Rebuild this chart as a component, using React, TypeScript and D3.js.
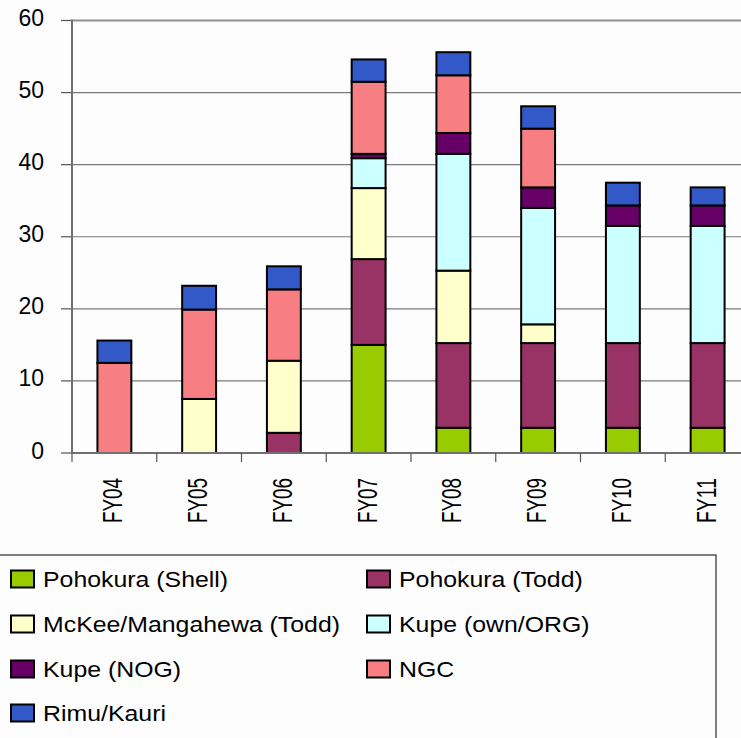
import React from "react";
import * as d3 from "d3";

// Fiscal years along the x axis
const years = ["FY04", "FY05", "FY06", "FY07", "FY08", "FY09", "FY10", "FY11"];

// Gas supply sources, stacked bottom to top
const sources = [
  "Pohokura (Shell)",
  "Pohokura (Todd)",
  "McKee/Mangahewa (Todd)",
  "Kupe (own/ORG)",
  "Kupe (NOG)",
  "NGC",
  "Rimu/Kauri",
];

const sourceColors = ["#99CC00", "#993366", "#FFFFCC", "#CCFFFF", "#660066", "#F77F84", "#3359C8"];

// Volumes per source, one value per fiscal year
const pohokuraShell = [0, 0, 0, 15.0, 3.5, 3.5, 3.5, 3.5];
const pohokuraTodd = [0, 0, 2.8, 11.9, 11.75, 11.75, 11.75, 11.75];
const mckeeTodd = [0, 7.5, 10.0, 9.85, 10.05, 2.6, 0, 0];
const kupeOwn = [0, 0, 0, 4.15, 16.2, 16.15, 16.25, 16.25];
const kupeNog = [0, 0, 0, 0.6, 2.9, 2.85, 2.85, 2.85];
const ngc = [12.5, 12.4, 9.9, 10.0, 8.0, 8.15, 0, 0];
const rimuKauri = [3.1, 3.3, 3.2, 3.1, 3.2, 3.1, 3.15, 2.5];

const yTicks = [0, 10, 20, 30, 40, 50, 60];

const seriesValues = [pohokuraShell, pohokuraTodd, mckeeTodd, kupeOwn, kupeNog, ngc, rimuKauri];

export default function App() {
  const W = 741;
  const H = 738;
  const left = 72;
  const right = 750;
  const top = 20.5;
  const bottom = 453;

  const rows = years.map((yr, i) => {
    const r: Record<string, number | string> = { year: yr };
    sources.forEach((s, k) => (r[s] = seriesValues[k][i]));
    return r;
  });

  const stacked = d3.stack<any>().keys(sources)(rows as any);

  const x = d3.scaleBand().domain(years).range([left, right]).paddingInner(0.6).paddingOuter(0.3);
  const y = d3.scaleLinear().domain([0, 60]).range([bottom, top]);
  const step = x.step();

  const font = "'Liberation Sans', Arial, sans-serif";

  const legendRows = [579, 624, 669, 713];
  const legendCols = [11, 367];

  return (
    <svg
      width={W}
      height={H}
      style={{ position: "absolute", left: 0, top: 0, background: "#fdfdfd" }}
      fontFamily={font}
    >
      <rect x={0} y={0} width={W} height={H} fill="#fdfdfd" />

      {/* horizontal gridlines */}
      {yTicks.filter((t) => t > 0 && t < 60).map((t) => (
        <line key={t} x1={left} x2={W} y1={y(t)} y2={y(t)} stroke="#7a7a7a" strokeWidth={1.2} />
      ))}
      <line x1={left} x2={W} y1={y(60)} y2={y(60)} stroke="#909090" strokeWidth={2} />

      {/* y axis ticks and labels */}
      {yTicks.map((t) => (
        <g key={t}>
          <line x1={61} x2={left} y1={y(t)} y2={y(t)} stroke="#555" strokeWidth={1.2} />
          <text x={44} y={y(t) + 5.5} textAnchor="end" fontSize={23} fill="#000">
            {t}
          </text>
        </g>
      ))}

      {/* stacked bars */}
      {stacked.map((layer, k) => (
        <g key={sources[k]}>
          {layer.map((d, i) => {
            if (d[1] - d[0] <= 0) return null;
            return (
              <rect
                key={years[i]}
                x={x(years[i])}
                width={x.bandwidth()}
                y={y(d[1])}
                height={y(d[0]) - y(d[1])}
                fill={sourceColors[k]}
                stroke="#000"
                strokeWidth={2}
              />
            );
          })}
        </g>
      ))}

      {/* axes lines */}
      <line x1={left} x2={left} y1={top - 1} y2={bottom + 1} stroke="#707070" strokeWidth={2} />
      <line x1={left} x2={W} y1={bottom} y2={bottom} stroke="#707070" strokeWidth={2} />

      {/* x axis ticks and rotated labels */}
      {years.map((yr, i) => (
        <line
          key={"t" + yr}
          x1={left + i * step}
          x2={left + i * step}
          y1={bottom}
          y2={bottom + 9}
          stroke="#555"
          strokeWidth={1.2}
        />
      ))}
      {years.map((yr) => {
        const cx = (x(yr) as number) + x.bandwidth() / 2;
        return (
          <text
            key={yr}
            transform={`translate(${cx + 8},${478}) rotate(-90)`}
            textAnchor="end"
            fontSize={28}
            textLength={45}
            lengthAdjust="spacingAndGlyphs"
            fill="#000"
          >
            {yr}
          </text>
        );
      })}

      {/* legend */}
      <rect x={-2} y={555} width={718} height={200} fill="#fdfdfd" stroke="#555" strokeWidth={1.5} />
      {sources.map((s, k) => {
        const col = k % 2;
        const row = Math.floor(k / 2);
        const sx = legendCols[col];
        const cy = legendRows[row];
        return (
          <g key={s}>
            <rect x={sx} y={cy - 8.5} width={23} height={17} fill={sourceColors[k]} stroke="#000" strokeWidth={2} />
            <text transform={`translate(${sx + 32},${cy + 7.5}) scale(1.13,1)`} fontSize={22} fill="#000">
              {s}
            </text>
          </g>
        );
      })}
    </svg>
  );
}
